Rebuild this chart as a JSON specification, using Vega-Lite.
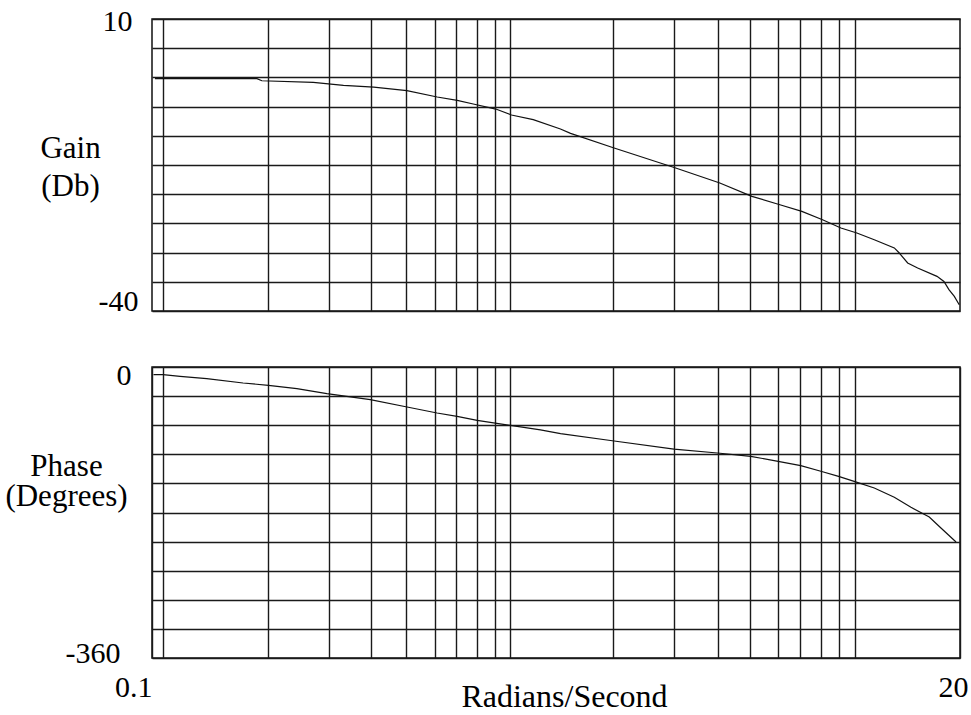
{
  "$schema": "https://vega.github.io/schema/vega-lite/v6.json",
  "autosize": {"type": "none"},
  "padding": {"left": 152, "top": 19, "right": 11, "bottom": 696},
  "bounds": "flush",
  "spacing": 56,
  "background": "white",
  "config": {
    "font": "Liberation Serif",
    "view": {"stroke": "#111", "strokeWidth": 1.5},
    "axis": {
      "grid": true,
      "gridColor": "#1a1a1a",
      "gridWidth": 1.4,
      "gridOpacity": 1,
      "domain": false,
      "ticks": false,
      "tickSize": 0,
      "labelFont": "Liberation Serif",
      "labelFontSize": 30,
      "labelColor": "#000",
      "labelOverlap": false,
      "labelFlush": false,
      "labelBound": false,
      "titleFont": "Liberation Serif",
      "titleFontSize": 31,
      "titleFontWeight": "normal",
      "titleColor": "#000"
    }
  },
  "datasets": {
    "gain": [
      {"f": 0.102, "g": -0.22},
      {"f": 0.199, "g": -0.22},
      {"f": 0.2055, "g": -0.57},
      {"f": 0.288, "g": -0.85},
      {"f": 0.351, "g": -1.36},
      {"f": 0.428, "g": -1.65},
      {"f": 0.532, "g": -2.28},
      {"f": 0.649, "g": -3.36},
      {"f": 0.74, "g": -3.93},
      {"f": 0.822, "g": -4.56},
      {"f": 0.953, "g": -5.42},
      {"f": 1.056, "g": -6.44},
      {"f": 1.218, "g": -7.24},
      {"f": 1.456, "g": -8.84},
      {"f": 1.556, "g": -9.58},
      {"f": 2.07, "g": -12.09},
      {"f": 3.1, "g": -15.52},
      {"f": 4.14, "g": -18.09},
      {"f": 5.11, "g": -20.37},
      {"f": 6.14, "g": -21.8},
      {"f": 7.09, "g": -22.94},
      {"f": 8.12, "g": -24.37},
      {"f": 9.16, "g": -25.79},
      {"f": 10.17, "g": -26.65},
      {"f": 11.4, "g": -27.8},
      {"f": 13.0, "g": -29.2},
      {"f": 13.43, "g": -30.07},
      {"f": 14.19, "g": -31.78},
      {"f": 15.15, "g": -32.64},
      {"f": 17.2, "g": -34.07},
      {"f": 18.0, "g": -34.93},
      {"f": 18.6, "g": -36.35},
      {"f": 19.27, "g": -37.5},
      {"f": 19.9, "g": -38.92}
    ],
    "phase": [
      {"f": 0.101, "p": -9.5},
      {"f": 0.1075, "p": -9.5},
      {"f": 0.1202, "p": -11.6},
      {"f": 0.1432, "p": -14.4},
      {"f": 0.1817, "p": -19.8},
      {"f": 0.2146, "p": -22.7},
      {"f": 0.2586, "p": -26.8},
      {"f": 0.3148, "p": -33.0},
      {"f": 0.4184, "p": -40.4},
      {"f": 0.5326, "p": -49.5},
      {"f": 0.6483, "p": -56.9},
      {"f": 0.7393, "p": -61.0},
      {"f": 0.8432, "p": -66.0},
      {"f": 1.049, "p": -72.2},
      {"f": 1.277, "p": -77.8},
      {"f": 1.457, "p": -82.5},
      {"f": 2.046, "p": -91.2},
      {"f": 3.065, "p": -101.5},
      {"f": 4.076, "p": -106.4},
      {"f": 5.07, "p": -110.5},
      {"f": 6.07, "p": -116.7},
      {"f": 7.04, "p": -122.0},
      {"f": 8.03, "p": -129.0},
      {"f": 9.02, "p": -135.3},
      {"f": 9.99, "p": -141.5},
      {"f": 11.4, "p": -149.7},
      {"f": 13.0, "p": -161.2},
      {"f": 14.5, "p": -173.6},
      {"f": 16.35, "p": -185.6},
      {"f": 17.65, "p": -199.2},
      {"f": 19.49, "p": -216.5}
    ]
  },
  "vconcat": [
    {
      "width": 808,
      "height": 292,
      "data": {"name": "gain"},
      "mark": {"type": "line", "color": "#111", "strokeWidth": 1.2},
      "encoding": {
        "x": {
          "field": "f",
          "type": "quantitative",
          "scale": {"type": "log", "domain": [0.1, 20], "nice": false},
          "axis": {
            "values": [0.1075, 0.2135, 0.32, 0.421, 0.528, 0.638, 0.735, 0.841, 0.945, 1.047, 2.05, 3.07, 4.09, 5.05, 6.06, 7.02, 8.02, 9.05, 10.02],
            "labels": false,
            "title": null
          }
        },
        "y": {
          "field": "g",
          "type": "quantitative",
          "scale": {"domain": [-40, 10], "nice": false, "zero": false},
          "axis": {
            "values": [10, 5, 0, -5, -10, -15, -20, -25, -30, -35, -40],
            "labelExpr": "datum.value == 10 ? '10' : datum.value == -40 ? '-40' : ''",
            "labelBaseline": "middle",
            "labelOffset": {"condition": {"test": "datum.value == -40", "value": -10}, "value": 2},
            "labelPadding": {"condition": {"test": "datum.value == -40", "value": 14}, "value": 20},
            "title": ["Gain", "(Db)"],
            "titleAngle": 0,
            "titleAlign": "center",
            "titleBaseline": "alphabetic",
            "titleLineHeight": 38,
            "titleX": -82,
            "titleY": 138
          }
        }
      }
    },
    {
      "width": 808,
      "height": 291,
      "data": {"name": "phase"},
      "mark": {"type": "line", "color": "#111", "strokeWidth": 1.2},
      "encoding": {
        "x": {
          "field": "f",
          "type": "quantitative",
          "scale": {"type": "log", "domain": [0.1, 20], "nice": false},
          "axis": {
            "values": [0.1, 0.1075, 0.2135, 0.32, 0.421, 0.528, 0.638, 0.735, 0.841, 0.945, 1.047, 2.05, 3.07, 4.09, 5.05, 6.06, 7.02, 8.02, 9.05, 10.02, 20],
            "labelExpr": "datum.value == 0.1 ? '0.1' : datum.value == 20 ? '20' : ''",
            "labelAlign": {"condition": {"test": "datum.value == 0.1", "value": "right"}, "value": "center"},
            "labelOffset": {"condition": {"test": "datum.value == 20", "value": -7}, "value": 0},
            "labelBaseline": "alphabetic",
            "labelPadding": 38,
            "title": "Radians/Second",
            "titleFontSize": 32,
            "titleAlign": "center",
            "titleBaseline": "alphabetic",
            "titleX": 412,
            "titleY": 48
          }
        },
        "y": {
          "field": "p",
          "type": "quantitative",
          "scale": {"domain": [-360, 0], "nice": false, "zero": false},
          "axis": {
            "values": [0, -36, -72, -108, -144, -180, -216, -252, -288, -324, -360],
            "labelExpr": "datum.value == 0 ? '0' : datum.value == -360 ? '-360' : ''",
            "labelBaseline": "middle",
            "labelOffset": {"condition": {"test": "datum.value == 0", "value": 8}, "value": -5},
            "labelPadding": {"condition": {"test": "datum.value == 0", "value": 21}, "value": 32},
            "title": ["Phase", "(Degrees)"],
            "titleAngle": 0,
            "titleAlign": "center",
            "titleBaseline": "alphabetic",
            "titleLineHeight": 30,
            "titleX": -86,
            "titleY": 108
          }
        }
      }
    }
  ]
}
